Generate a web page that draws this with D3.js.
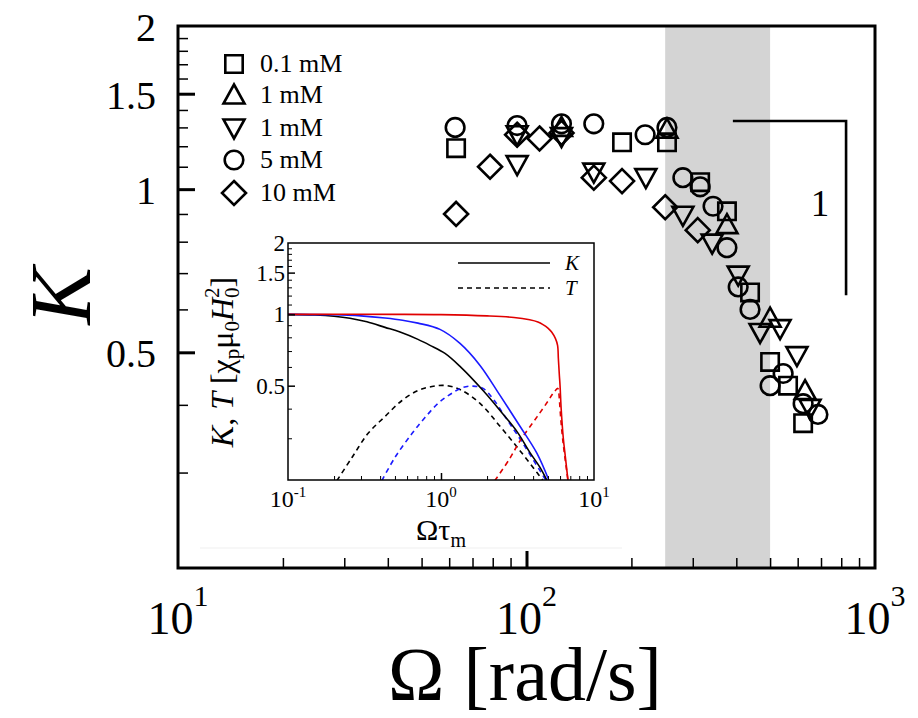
<!DOCTYPE html>
<html>
<head>
<meta charset="utf-8">
<script src="https://cdn.jsdelivr.net/npm/d3@7"></script>
<style>
body { margin: 0; background: #fff; }
text { font-family: "Liberation Serif", "Times New Roman", serif; fill: #000; }
</style>
</head>
<body>
<svg id="chart"></svg>
<script>
// series labels + marker shapes (same order)
const concLabels = ['0.1 mM', '1 mM', '1 mM', '5 mM', '10 mM'];
const shapes = ['square', 'triUp', 'triDown', 'circle', 'diamond'];

// Omega [rad/s] and K
const sqW = [62.8, 188, 253, 315, 376, 438, 500, 563, 622];
const sqK = [1.19, 1.22, 1.22, 1.03, 0.91, 0.645, 0.48, 0.434, 0.37];
const tuW = [126, 253, 376, 500, 630];
const tuK = [1.30, 1.29, 0.86, 0.578, 0.425];
const tdW = [94, 94, 126, 156, 220, 281, 341, 405, 468, 534, 597, 651];
const tdK = [1.11, 1.26, 1.25, 1.075, 1.05, 0.895, 0.795, 0.694, 0.544, 0.553, 0.493, 0.394];
const ciW = [62.4, 94, 126, 156, 219, 253, 281, 315, 343, 376, 405, 438, 500, 545, 622, 686];
const ciK = [1.30, 1.31, 1.32, 1.32, 1.26, 1.30, 1.05, 1.01, 0.93, 0.78, 0.66, 0.60, 0.434, 0.457, 0.402, 0.384];
const diW = [62.8, 78.6, 94, 109, 126, 156, 188, 250, 310];
const diK = [0.90, 1.10, 1.26, 1.24, 1.27, 1.05, 1.035, 0.926, 0.84];

// shaded band, slope guide (slope -1)
const band = [250, 500];
const slopeW = [391, 826, 826];
const slopeK = [1.336, 1.336, 0.637];
const slopeLabel = { w: 695, k: 0.942, text: '1' };

// main axis ticks
const xMajor = [10, 100, 1000];
const xMajorExp = ['1', '2', '3'];
const yMajor = [0.5, 1, 1.5, 2];
const yMajorLabels = ['0.5', '1', '1.5', '2'];

// inset curves: Omega*tau_m vs K or T
const blackKx = [0.1, 0.15, 0.2, 0.254, 0.328, 0.431, 0.54, 0.707, 0.848, 1.062, 1.331, 1.883, 2.431, 3.139, 3.815, 4.436, 4.929];
const blackKy = [1.0, 0.994, 0.982, 0.963, 0.93, 0.881, 0.842, 0.784, 0.74, 0.684, 0.603, 0.477, 0.393, 0.32, 0.261, 0.226, 0.199];
const blueKx = [0.1, 0.2, 0.3, 0.431, 0.56, 0.707, 0.985, 1.331, 1.799, 2.431, 3.282, 4.24, 5.08];
const blueKy = [1.0, 0.996, 0.985, 0.965, 0.945, 0.918, 0.864, 0.754, 0.609, 0.455, 0.337, 0.259, 0.199];
const redKx = [0.1, 0.5, 1.0, 2.0, 3.0, 3.8, 4.3, 4.64, 5.0, 5.3, 5.6, 5.78, 5.85, 5.93, 6.0, 6.1, 6.3, 6.5, 6.76];
const redKy = [1.0, 1.0, 0.997, 0.985, 0.97, 0.948, 0.928, 0.905, 0.875, 0.84, 0.79, 0.74, 0.65, 0.56, 0.5, 0.4, 0.3, 0.25, 0.199];
const blackTx = [0.209, 0.262, 0.333, 0.431, 0.556, 0.707, 0.873, 1.062, 1.331, 1.799, 2.431, 3.282, 4.24, 4.643];
const blackTy = [0.199, 0.249, 0.314, 0.371, 0.433, 0.477, 0.496, 0.501, 0.482, 0.421, 0.337, 0.266, 0.215, 0.199];
const blueTx = [0.411, 0.5, 0.646, 0.786, 0.956, 1.145, 1.372, 1.618, 1.883, 2.187, 2.7, 3.435, 4.436, 4.853];
const blueTy = [0.199, 0.249, 0.314, 0.367, 0.421, 0.459, 0.49, 0.498, 0.487, 0.44, 0.36, 0.285, 0.219, 0.199];
const redTx = [2.25, 2.8, 3.3, 4.0, 4.44, 5.0, 5.4, 5.8, 5.88, 5.95, 6.05, 6.2, 6.4, 6.76];
const redTy = [0.199, 0.245, 0.294, 0.35, 0.385, 0.43, 0.464, 0.487, 0.47, 0.43, 0.37, 0.31, 0.26, 0.199];

const insetXMajor = [0.1, 1, 10];
const insetXExp = ['-1', '0', '1'];
const insetYMajor = [0.5, 1, 1.5, 2];
const insetYLabels = ['0.5', '1', '1.5', '2'];

const svg = d3.select('#chart').attr('width', 918).attr('height', 718);

// main plot box
const box = { left: 178, top: 26, right: 875, bottom: 568 };
const x = d3.scaleLog().domain([10, 1000]).range([box.left, box.right]);
const y = d3.scaleLog().domain([0.2, 2]).range([box.bottom, box.top]);

// grey band first so ticks sit on top
svg.append('rect')
	.attr('x', x(band[0]))
	.attr('y', box.top)
	.attr('width', x(band[1]) - x(band[0]))
	.attr('height', box.bottom - box.top)
	.attr('fill', '#d4d4d4');

// faint edge of the pasted inset picture
svg.append('line')
	.attr('x1', 200).attr('x2', 622)
	.attr('y1', 548).attr('y2', 548)
	.attr('stroke', '#efefef').attr('stroke-width', 1);

// ticks point inward, so negative tick sizes
function tickGroup(axis, transform, width) {
	let g = svg.append('g').attr('transform', transform).call(axis);
	g.select('.domain').remove();
	g.selectAll('line').attr('stroke', '#000').attr('stroke-width', width);
	g.selectAll('text').remove();
	return g;
}

let xMinor = [], yMinor = [];
for(let i = 2; i < 10; i++) { xMinor.push(i * 10, i * 100); }
for(let i = 3; i < 20; i++) { if(i != 5 && i != 10 && i != 15) yMinor.push(i / 10); }

tickGroup(d3.axisBottom(x).tickValues(xMinor).tickSize(-10), 'translate(0,' + box.bottom + ')', 1.5);
tickGroup(d3.axisBottom(x).tickValues([100]).tickSize(-17), 'translate(0,' + box.bottom + ')', 3);
tickGroup(d3.axisLeft(y).tickValues(yMinor).tickSize(-10), 'translate(' + box.left + ',0)', 1.5);
tickGroup(d3.axisLeft(y).tickValues([0.5, 1, 1.5]).tickSize(-17), 'translate(' + box.left + ',0)', 3);

svg.append('rect')
	.attr('x', box.left).attr('y', box.top)
	.attr('width', box.right - box.left)
	.attr('height', box.bottom - box.top)
	.attr('fill', 'none').attr('stroke', '#000').attr('stroke-width', 3);

// main tick labels
svg.selectAll('.ylab')
	.data(yMajor)
	.enter()
	.append('text')
	.attr('class', 'ylab')
	.attr('x', 156)
	.attr('y', (d) => { return y(d) + 15 })
	.attr('text-anchor', 'end')
	.attr('font-size', 40)
	.text((d, i) => { return yMajorLabels[i] });

let xl = svg.selectAll('.xlab')
	.data(xMajor)
	.enter()
	.append('text')
	.attr('class', 'xlab')
	.attr('x', (d) => { return x(d) })
	.attr('y', 634)
	.attr('text-anchor', 'middle')
	.attr('font-size', 46);
xl.append('tspan').text('10');
xl.append('tspan').attr('font-size', 30).attr('dy', -28).text((d, i) => { return xMajorExp[i] });

// axis titles
svg.append('text')
	.attr('x', 525).attr('y', 700)
	.attr('text-anchor', 'middle')
	.attr('font-size', 76)
	.text('\u03A9 [rad/s]');

svg.append('text')
	.attr('transform', 'translate(90,296) rotate(-90)')
	.attr('text-anchor', 'middle')
	.attr('font-size', 86)
	.attr('font-style', 'italic')
	.text('K');

// slope guide
svg.append('path')
	.attr('d', d3.line().x((d) => { return x(d[0]) }).y((d) => { return y(d[1]) })(d3.zip(slopeW, slopeK)))
	.attr('fill', 'none').attr('stroke', '#000').attr('stroke-width', 2.6);
svg.append('text')
	.attr('x', x(slopeLabel.w)).attr('y', y(slopeLabel.k) + 13)
	.attr('text-anchor', 'middle')
	.attr('font-size', 37)
	.text(slopeLabel.text);

// ---- inset ----
const ibox = { left: 288, top: 243, right: 594, bottom: 480 };
const ix = d3.scaleLog().domain([0.1, 10]).range([ibox.left, ibox.right]);
const iy = d3.scaleLog().domain([0.2, 2]).range([ibox.bottom, ibox.top]);

svg.append('rect')
	.attr('x', ibox.left).attr('y', ibox.top)
	.attr('width', ibox.right - ibox.left).attr('height', ibox.bottom - ibox.top)
	.attr('fill', '#fff');

svg.append('clipPath').attr('id', 'iclip')
	.append('rect')
	.attr('x', ibox.left).attr('y', ibox.top)
	.attr('width', ibox.right - ibox.left).attr('height', ibox.bottom - ibox.top);

const iline = d3.line()
	.x((d) => { return ix(d[0]) })
	.y((d) => { return iy(d[1]) })
	.curve(d3.curveCatmullRom.alpha(0.5));

const curves = [
	[blackTx, blackTy, '#000', true],
	[blueTx, blueTy, '#1a1aff', true],
	[redTx, redTy, '#e00000', true],
	[blackKx, blackKy, '#000', false],
	[blueKx, blueKy, '#1a1aff', false],
	[redKx, redKy, '#e00000', false],
];
let cg = svg.append('g').attr('clip-path', 'url(#iclip)');
curves.forEach((c) => {
	cg.append('path')
		.attr('d', iline(d3.zip(c[0], c[1])))
		.attr('fill', 'none')
		.attr('stroke', c[2])
		.attr('stroke-width', 1.6)
		.attr('stroke-dasharray', c[3] ? '5,4' : null);
});

let ixMinor = [], iyMinor = [];
for(let i = 2; i < 10; i++) { ixMinor.push(i / 10, i); }
for(let i = 3; i < 20; i++) { if(i != 5 && i != 10 && i != 15) iyMinor.push(i / 10); }

tickGroup(d3.axisBottom(ix).tickValues(ixMinor).tickSize(-4), 'translate(0,' + ibox.bottom + ')', 1);
tickGroup(d3.axisBottom(ix).tickValues([1]).tickSize(-7), 'translate(0,' + ibox.bottom + ')', 1.5);
tickGroup(d3.axisLeft(iy).tickValues(iyMinor).tickSize(-4), 'translate(' + ibox.left + ',0)', 1);
tickGroup(d3.axisLeft(iy).tickValues([0.5, 1, 1.5]).tickSize(-7), 'translate(' + ibox.left + ',0)', 1.5);

svg.append('rect')
	.attr('x', ibox.left).attr('y', ibox.top)
	.attr('width', ibox.right - ibox.left).attr('height', ibox.bottom - ibox.top)
	.attr('fill', 'none').attr('stroke', '#000').attr('stroke-width', 1.5);

svg.selectAll('.iylab')
	.data(insetYMajor)
	.enter()
	.append('text')
	.attr('class', 'iylab')
	.attr('x', 285)
	.attr('y', (d) => { return iy(d) + 8 })
	.attr('text-anchor', 'end')
	.attr('font-size', 23)
	.text((d, i) => { return insetYLabels[i] });

let ixl = svg.selectAll('.ixlab')
	.data(insetXMajor)
	.enter()
	.append('text')
	.attr('class', 'ixlab')
	.attr('x', (d) => { return ix(d) })
	.attr('y', 507)
	.attr('text-anchor', 'middle')
	.attr('font-size', 24);
ixl.append('tspan').text('10');
ixl.append('tspan').attr('font-size', 15).attr('dy', -10).text((d, i) => { return insetXExp[i] });

// inset titles
let ixt = svg.append('text')
	.attr('x', 441).attr('y', 540)
	.attr('text-anchor', 'middle')
	.attr('font-size', 30);
ixt.append('tspan').text('\u03A9\u03C4');
ixt.append('tspan').attr('font-size', 20).attr('dy', 7).text('m');

let iyt = svg.append('text')
	.attr('transform', 'translate(233,362) rotate(-90)')
	.attr('text-anchor', 'middle')
	.attr('font-size', 32);
iyt.append('tspan').attr('font-style', 'italic').text('K');
iyt.append('tspan').text(', ');
iyt.append('tspan').attr('font-style', 'italic').text('T');
iyt.append('tspan').text(' [\u03C7');
iyt.append('tspan').attr('font-size', 21).attr('dy', 6).text('p');
iyt.append('tspan').attr('dy', -6).text('\u03BC');
iyt.append('tspan').attr('font-size', 21).attr('dy', 6).text('0');
iyt.append('tspan').attr('dy', -6).attr('font-style', 'italic').text('H');
iyt.append('tspan').attr('font-size', 21).attr('dy', 6).text('0');
iyt.append('tspan').attr('font-size', 21).attr('dx', -10.5).attr('dy', -20).text('2');
iyt.append('tspan').attr('dy', 14).text(']');

// inset legend
const ilegY = [263, 288];
const ilegText = ['K', 'T'];
ilegY.forEach((ly, i) => {
	svg.append('line')
		.attr('x1', 458).attr('x2', 550)
		.attr('y1', ly).attr('y2', ly)
		.attr('stroke', '#000').attr('stroke-width', 1.6)
		.attr('stroke-dasharray', i == 1 ? '5,4' : null);
	svg.append('text')
		.attr('x', 565).attr('y', ly + 7)
		.attr('font-size', 21)
		.attr('font-style', 'italic')
		.text(ilegText[i]);
});

// ---- markers ----
function markerPath(shape) {
	switch(shape) {
		case 'square': return 'M-8.7,-8.7H8.7V8.7H-8.7Z';
		case 'circle': return 'M9.3,0A9.3,9.3 0 1,1 -9.3,0A9.3,9.3 0 1,1 9.3,0Z';
		case 'diamond': return 'M0,-12L12,0L0,12L-12,0Z';
		case 'triUp': return 'M0,-10.5L10.5,8.5L-10.5,8.5Z';
		case 'triDown': return 'M0,10.5L10.5,-8.5L-10.5,-8.5Z';
	}
}

const series = [
	[sqW, sqK], [tuW, tuK], [tdW, tdK], [ciW, ciK], [diW, diK]
];

series.forEach((s, si) => {
	svg.append('g')
		.selectAll('path')
		.data(d3.zip(s[0], s[1]))
		.enter()
		.append('path')
		.attr('transform', (d) => { return 'translate(' + x(d[0]) + ',' + y(d[1]) + ')' })
		.attr('d', markerPath(shapes[si]))
		.attr('fill', 'none')
		.attr('stroke', '#000')
		.attr('stroke-width', 2.6);
});

// main legend
const legY = [64, 95, 128, 160, 193];
concLabels.forEach((lab, i) => {
	svg.append('path')
		.attr('transform', 'translate(234,' + legY[i] + ')')
		.attr('d', markerPath(shapes[i]))
		.attr('fill', 'none')
		.attr('stroke', '#000')
		.attr('stroke-width', 2.6);
	svg.append('text')
		.attr('x', 260).attr('y', legY[i] + 8)
		.attr('font-size', 26)
		.text(lab);
});
</script>
</body>
</html>
